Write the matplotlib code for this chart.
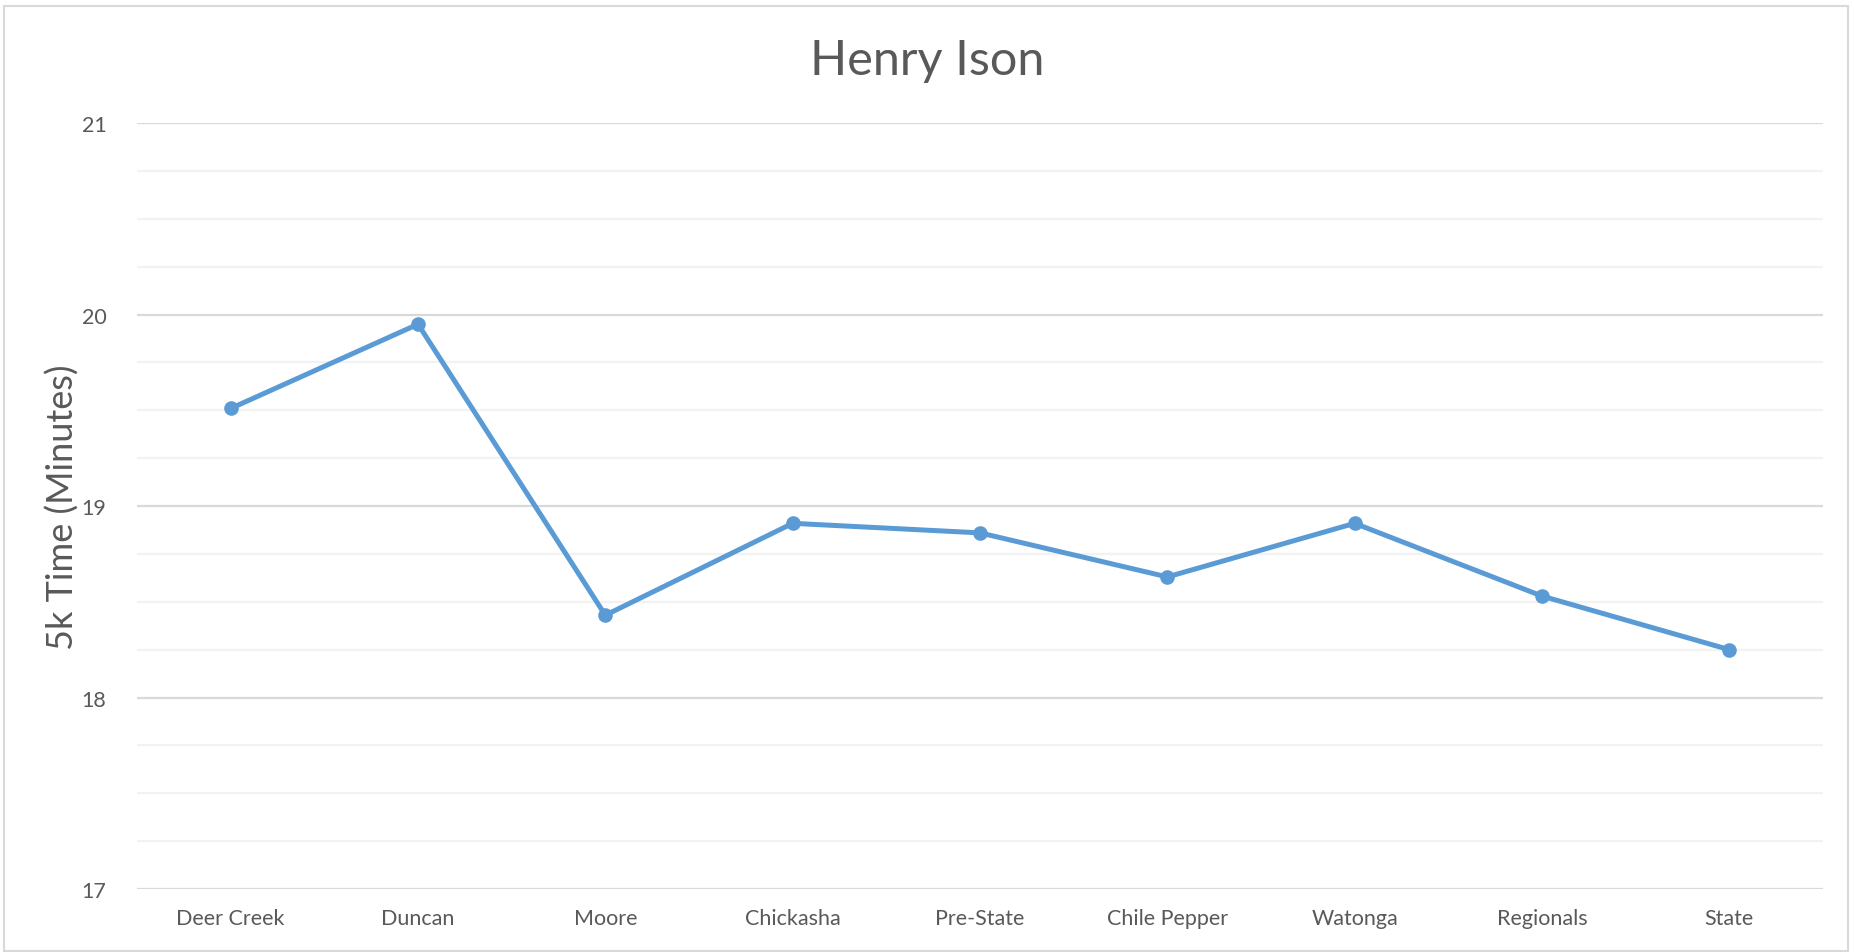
import matplotlib.pyplot as plt
from matplotlib.patches import Rectangle
from matplotlib.ticker import MultipleLocator

plt.rcParams['font.family'] = ['Lato', 'DejaVu Sans']

# race names and 5k times (minutes)
races = ['Deer Creek', 'Duncan', 'Moore', 'Chickasha', 'Pre-State',
         'Chile Pepper', 'Watonga', 'Regionals', 'State']
times = [19.51, 19.95, 18.43, 18.91, 18.86, 18.63, 18.91, 18.53, 18.25]

grey = '#595959'

fig = plt.figure(figsize=(18.54, 9.53), dpi=100)
ax = fig.add_axes([0.0739, 0.0661, 0.9094, 0.8036])

ax.plot(range(len(races)), times, color='#5B9BD5', lw=3.6,
        marker='o', markersize=9.5, zorder=3)

ax.set_xlim(-0.5, len(races) - 0.5)
ax.set_ylim(17, 21)
ax.yaxis.set_major_locator(MultipleLocator(1))
ax.yaxis.set_minor_locator(MultipleLocator(0.25))
ax.grid(which='major', axis='y', color='#D9D9D9', lw=1.6)
ax.grid(which='minor', axis='y', color='#F2F2F2', lw=1.6)
ax.set_axisbelow(True)

ax.set_xticks(range(len(races)))
ax.set_xticklabels(races)
ax.tick_params(axis='both', which='both', length=0, labelsize=15.5,
               labelcolor=grey)
ax.tick_params(axis='x', pad=14)
ax.tick_params(axis='y', pad=22)
for s in ax.spines.values():
    s.set_visible(False)

ax.set_ylabel('5k Time (Minutes)', fontsize=26, color=grey)
ax.yaxis.set_label_coords(-0.034, 0.5)
fig.text(0.5, 0.936, 'Henry Ison', ha='center', va='center',
         fontsize=35, color=grey)

fig.patches.append(Rectangle((0.002, 0.001), 0.995, 0.992,
                             transform=fig.transFigure, fill=False,
                             edgecolor='#D9D9D9', lw=1.5))

fig.savefig('out.png', dpi=100)
